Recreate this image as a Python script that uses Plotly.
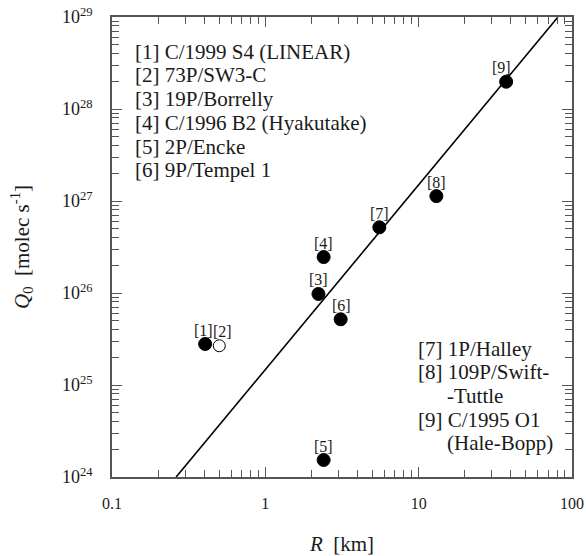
import math
import plotly.graph_objects as go

# ---- data ----
labels = ["[1]", "[2]", "[3]", "[4]", "[5]", "[6]", "[7]", "[8]", "[9]"]
radius_km = [0.405, 0.501, 2.22, 2.40, 2.40, 3.10, 5.54, 13.05, 37.2]
q0 = [2.79e25, 2.67e25, 9.76e25, 2.46e26, 1.53e24, 5.18e25, 5.18e26, 1.13e27, 1.98e28]
filled = [True, False, True, True, True, True, True, True, True]

fit_R = [0.262, 81.0]
fit_Q = [1e24, 1e29]

x_tickvals = [0.1, 1, 10, 100]
x_ticktext = ["0.1", "1", "10", "100"]
y_tickvals = [1e24, 1e25, 1e26, 1e27, 1e28, 1e29]
y_ticktext = ["10<sup>24</sup>", "10<sup>25</sup>", "10<sup>26</sup>",
              "10<sup>27</sup>", "10<sup>28</sup>", "10<sup>29</sup>"]

left_names = ["[1] C/1999 S4 (LINEAR)", "[2] 73P/SW3-C", "[3] 19P/Borrelly",
              "[4] C/1996 B2 (Hyakutake)", "[5] 2P/Encke", "[6] 9P/Tempel 1"]
right_names = ["[7] 1P/Halley", "[8] 109P/Swift-", "-Tuttle",
               "[9] C/1995 O1", "(Hale-Bopp)"]
right_indent = [False, False, True, False, True]

FONT = "Liberation Serif, Times New Roman, serif"
INK = "#1a1a1a"
AX = "#555555"

x_minor = [float(m) * 10.0 ** e for e in range(-1, 2) for m in range(2, 10)]
y_minor = [float(m) * 10.0 ** e for e in range(24, 29) for m in range(2, 10)]

fig = go.Figure()

fig.add_trace(go.Scatter(x=fit_R, y=fit_Q, mode="lines",
                         line=dict(color="black", width=1.6),
                         showlegend=False, hoverinfo="skip"))

fig.add_trace(go.Scatter(
    x=radius_km, y=q0, mode="markers",
    marker=dict(size=[13 if f else 12 for f in filled],
                color=["#000000" if f else "#ffffff" for f in filled],
                opacity=1,
                line=dict(color="black", width=1)),
    showlegend=False))

xshifts = [-2, 3, 0, 0, 0, 1, 0, 0, -5]
for lab, xv, yv, xs in zip(labels, radius_km, q0, xshifts):
    fig.add_annotation(x=math.log10(xv), y=math.log10(yv), xref="x", yref="y",
                       text=lab, showarrow=False,
                       yshift=14, xshift=xs, yanchor="middle", xanchor="center",
                       font=dict(family=FONT, size=16, color=INK))

W, H = 586, 556
x0, x1, y0, y1 = 112, 572, 17, 477  # plot area in page pixels


def px(xp):
    return (xp - x0) / (x1 - x0)


def py(yp):
    return (y1 - yp) / (y1 - y0)


for i, t in enumerate(left_names):
    fig.add_annotation(x=px(133), y=py(51.7 + 23.7 * i), xref="paper", yref="paper",
                       text=t, showarrow=False, xanchor="left", yanchor="middle",
                       font=dict(family=FONT, size=21, color=INK))

for i, (t, ind) in enumerate(zip(right_names, right_indent)):
    fig.add_annotation(x=px(445 if ind else 416), y=py(348.5 + 23.7 * i),
                       xref="paper", yref="paper", text=t, showarrow=False,
                       xanchor="left", yanchor="middle",
                       font=dict(family=FONT, size=21, color=INK))


def axis_common(minor_vals):
    return dict(showline=True, linecolor=AX, linewidth=1.5, mirror="allticks",
                ticks="inside", ticklen=10, tickcolor=AX, tickwidth=1.2,
                showgrid=False, zeroline=False, automargin=False,
                ticklabeloverflow="allow",
                minor=dict(ticks="inside", ticklen=7, tickcolor=AX, tickwidth=1.2,
                           tickvals=minor_vals, showgrid=False))


fig.update_xaxes(type="log", range=[-1, 2], tickvals=x_tickvals, ticktext=x_ticktext,
                 tickfont=dict(family=FONT, size=16, color=INK),
                 title=dict(text="<i>R</i>&nbsp; [km]",
                            font=dict(family=FONT, size=21, color=INK), standoff=25),
                 ticklabelstandoff=11, **axis_common(x_minor))
fig.update_yaxes(type="log", range=[24, 29], tickvals=y_tickvals, ticktext=y_ticktext,
                 tickfont=dict(family=FONT, size=18, color=INK),
                 title=dict(text="<i>Q</i><sub>0</sub>&nbsp; [molec s<sup>-1</sup>]",
                            font=dict(family=FONT, size=21, color=INK), standoff=27),
                 ticklabelstandoff=14, **axis_common(y_minor))

fig.update_layout(width=W, height=H,
                  margin=dict(l=x0, r=W - x1, t=y0, b=H - y1),
                  plot_bgcolor="white", paper_bgcolor="white",
                  font=dict(family=FONT, color=INK))

fig.write_html("out.html",
               config={"displayModeBar": False},
               post_script="document.body.style.margin='0px';document.body.style.overflow='hidden';")
